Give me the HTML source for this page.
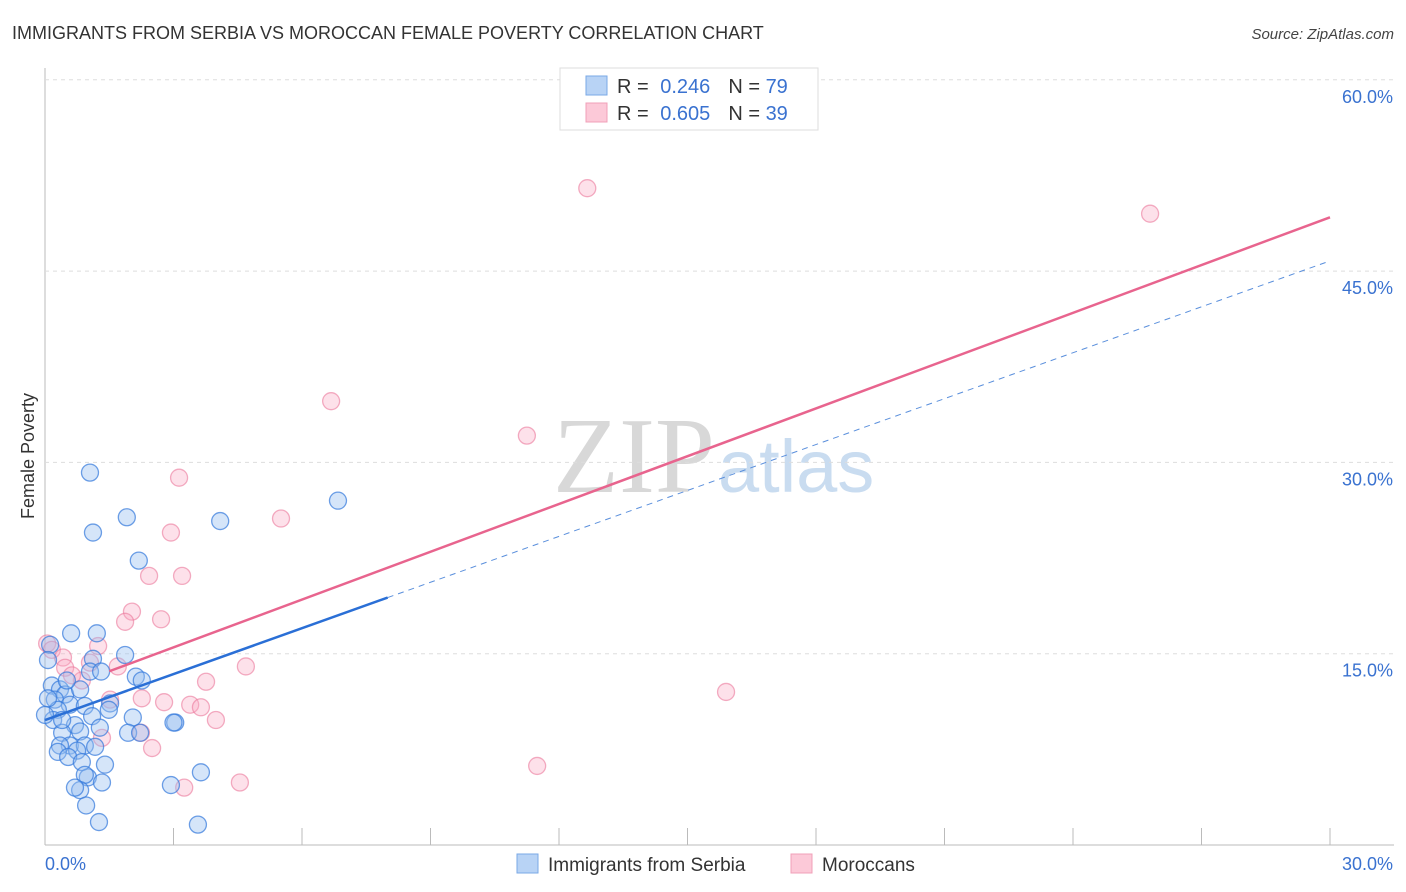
<!DOCTYPE html>
<html><head><meta charset="utf-8"><style>
body{margin:0;background:#fff;font-family:"Liberation Sans",sans-serif;}
#wrap{position:relative;width:1406px;height:892px;overflow:hidden;}
</style></head><body>
<div id="wrap">
<svg id="svg" width="1406" height="892" xmlns="http://www.w3.org/2000/svg">
<text x="12" y="39" font-size="18" fill="#333">IMMIGRANTS FROM SERBIA VS MOROCCAN FEMALE POVERTY CORRELATION CHART</text>
<text x="1394" y="39" font-size="15" fill="#444" font-style="italic" text-anchor="end">Source: ZipAtlas.com</text>
<text x="34" y="456" font-size="18" fill="#333" text-anchor="middle" transform="rotate(-90 34 456)">Female Poverty</text>
<text x="553" y="492" font-size="108" fill="#d8d8d8" font-family="Liberation Serif,serif">ZIP</text>
<text x="718" y="492" font-size="74" fill="#c9dcf0">atlas</text>
<g id="grid"></g><g id="pts"></g><g id="lines"></g>
<g>
<rect x="560" y="68" width="258" height="62" fill="#fff" stroke="#ddd"/>
<rect x="586" y="76" width="21" height="19" fill="#b8d3f5" stroke="#7aa8e6"/>
<rect x="586" y="103" width="21" height="19" fill="#fcc9d8" stroke="#f0a0b8"/>
<text x="617" y="93" font-size="20" fill="#333">R = <tspan fill="#3a72d0" dx="6">0.246</tspan><tspan dx="18">N = </tspan><tspan fill="#3a72d0">79</tspan></text>
<text x="617" y="120" font-size="20" fill="#333">R = <tspan fill="#3a72d0" dx="6">0.605</tspan><tspan dx="18">N = </tspan><tspan fill="#3a72d0">39</tspan></text>
</g>
<g>
<rect x="517" y="854" width="21" height="19" fill="#b8d3f5" stroke="#7aa8e6"/>
<text x="548" y="871" font-size="19" fill="#333">Immigrants from Serbia</text>
<rect x="791" y="854" width="21" height="19" fill="#fcc9d8" stroke="#f0a0b8"/>
<text x="822" y="871" font-size="19" fill="#333">Moroccans</text>
</g>
</svg></div>
<script>
const yTicks=[15,30,45,60];
const yTickLabels=["15.0%","30.0%","45.0%","60.0%"];
const xTickLabels=["0.0%","30.0%"];
const serbiaX=[1.05,1.12,1.91,4.09,6.84,2.19,0.61,1.21,1.87,1.12,1.05,1.31,2.12,2.26,0.12,0.07,0.16,0.35,0.47,0.23,0.58,0.30,0.93,1.52,0.82,1.1,2.05,3.04,3.0,0.19,0.70,0.40,0.82,1.28,1.94,2.22,0.58,0.93,0.35,0.30,0.75,1.17,0.54,0.86,1.4,1.0,0.93,1.33,0.82,0.7,0.96,1.26,2.94,3.64,3.57,1.49,0.4,0.0,0.07,0.51];
const serbiaY=[29.2,24.5,25.7,25.4,27.0,22.3,16.6,16.6,14.9,14.6,13.6,13.6,13.2,12.9,15.7,14.5,12.5,12.2,11.8,11.4,11.0,10.6,10.9,11.1,12.2,10.1,10.0,9.6,9.6,9.8,9.4,8.8,8.9,9.2,8.8,8.8,7.8,7.8,7.8,7.3,7.4,7.7,6.9,6.5,6.3,5.3,5.5,4.9,4.3,4.5,3.1,1.8,4.7,5.7,1.6,10.6,9.8,10.2,11.5,12.9];
const morX=[12.66,25.8,6.68,11.25,3.13,5.51,2.94,2.43,3.2,2.03,1.87,2.71,1.24,0.05,0.16,0.42,0.47,1.05,1.7,4.69,0.86,3.76,0.63,1.52,2.26,2.78,3.39,3.64,3.99,15.9,1.33,2.24,2.5,11.49,4.55,3.25];
const morY=[51.5,49.5,34.8,32.1,28.8,25.6,24.5,21.1,21.1,18.3,17.5,17.7,15.6,15.8,15.3,14.7,13.9,14.3,14.0,14.0,12.9,12.8,13.3,11.4,11.5,11.2,11.0,10.8,9.8,12.0,8.4,8.8,7.6,6.2,4.9,4.5];
const serbiaTrend=[9.8,1.2];   // intercept, slope
const morTrend=[11.75,1.249];
const X=v=>45+v/30*1285, Y=v=>845-v/15*191.3;
const NS="http://www.w3.org/2000/svg";
function mk(t,a,p){const e=document.createElementNS(NS,t);for(const k in a)e.setAttribute(k,a[k]);p.appendChild(e);return e;}
const grid=document.getElementById('grid'),pts=document.getElementById('pts'),lines=document.getElementById('lines');
let ax=mk('line',{x1:45,y1:68,x2:45,y2:845,stroke:'#bbb'},grid);


let bx=mk('line',{x1:45,y1:845,x2:1394,y2:845,stroke:'#bbb'},grid);


for(let i=1;i<=10;i++){const x=45+i*128.5;const t=mk('line',{x1:x,y1:828,x2:x,y2:845,stroke:'#bbb'},grid);

}
yTicks.forEach((v,i)=>{const g=mk('line',{x1:45,y1:Y(v),x2:1394,y2:Y(v),stroke:'#ddd','stroke-dasharray':'4,4'},grid);


const t=mk('text',{x:1393,y:Y(v)+23,'font-size':18,fill:'#3a72d0','text-anchor':'end'},grid);t.textContent=yTickLabels[i];

});
xTickLabels.forEach((l,i)=>{const t=mk('text',{x:i?1393:45,y:870,'font-size':18,fill:'#3a72d0','text-anchor':i?'end':'start'},grid);t.textContent=l;

});
morX.forEach((v,i)=>{const c=mk('circle',{cx:X(v),cy:Y(morY[i]),r:8.5,fill:'rgba(248,170,195,0.35)',stroke:'rgba(235,120,155,0.6)','stroke-width':1.3},pts);

});
serbiaX.forEach((v,i)=>{const c=mk('circle',{cx:X(v),cy:Y(serbiaY[i]),r:8.5,fill:'rgba(150,190,240,0.4)',stroke:'rgba(50,120,220,0.7)','stroke-width':1.3},pts);

});
const f=(t,x)=>t[0]+t[1]*x;
let l=mk('line',{x1:X(8),y1:Y(f(serbiaTrend,8)),x2:X(30),y2:Y(f(serbiaTrend,30)),stroke:'#5a8fdc','stroke-width':1,'stroke-dasharray':'6,5'},lines);


l=mk('line',{x1:X(0),y1:Y(f(serbiaTrend,0)),x2:X(8),y2:Y(f(serbiaTrend,8)),stroke:'#2a6fd6','stroke-width':2.5},lines);


l=mk('line',{x1:X(1.5),y1:Y(f(morTrend,1.5)),x2:X(30),y2:Y(f(morTrend,30)),stroke:'#e8648e','stroke-width':2.5},lines);


</script>
</body></html>
